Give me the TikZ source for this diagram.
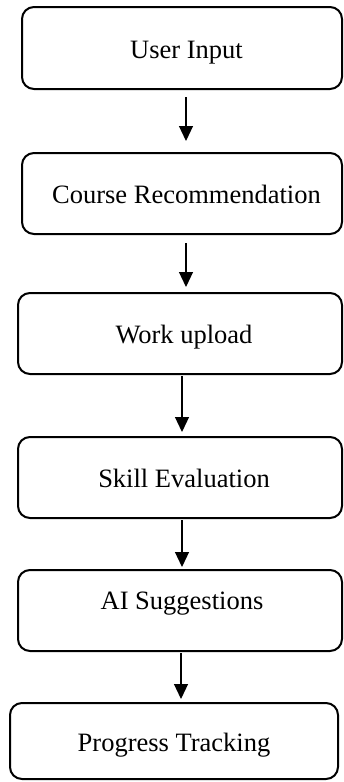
\documentclass[tikz,border=0pt]{standalone}
\usepackage{fontspec}
\setmainfont{Liberation Serif}
\usetikzlibrary{arrows.meta}
\begin{document}
\begin{tikzpicture}[x=1pt,y=-1pt,
  box/.style={draw, line width=2pt, rounded corners=12pt, inner sep=0pt,
    minimum height=81pt, minimum width=324pt,
    text height=24.5pt, text depth=4pt,
    font=\fontsize{26.5}{30}\selectfont},
  arr/.style={line width=1.2pt, -{Triangle[width=14pt,length=15pt]}}]
\useasboundingbox (0,0) rectangle (344,782);
\node[box, minimum width=320pt, minimum height=82pt] (b1) at (182,48) {\hspace*{9pt}User Input};
\node[box, minimum width=320pt] (b2) at (182,193.5) {\hspace*{9pt}Course Recommendation};
\node[box] (b3) at (180,333.5) {\hspace*{8pt}Work upload};
\node[box] (b4) at (180,477.5) {\hspace*{8pt}Skill Evaluation};
\node[box] (b5) at (180,610.5) {\hspace*{4pt}\raisebox{11pt}{AI Suggestions}};
\node[box, minimum width=328pt, minimum height=76pt] (b6) at (174,741) {Progress Tracking};
\draw[arr] ([xshift=4pt,yshift=-7pt]b1.south) -- ([xshift=4pt,yshift=11pt]b2.north);
\draw[arr] ([xshift=4pt,yshift=-8pt]b2.south) -- ([xshift=6pt,yshift=5pt]b3.north);
\draw[arr] ([xshift=2pt,yshift=-1pt]b3.south) -- ([xshift=2pt,yshift=4pt]b4.north);
\draw[arr] ([xshift=2pt,yshift=-1pt]b4.south) -- ([xshift=2pt,yshift=2pt]b5.north);
\draw[arr] ([xshift=1pt,yshift=-1pt]b5.south) -- ([xshift=7pt,yshift=3pt]b6.north);
\end{tikzpicture}
\end{document}
